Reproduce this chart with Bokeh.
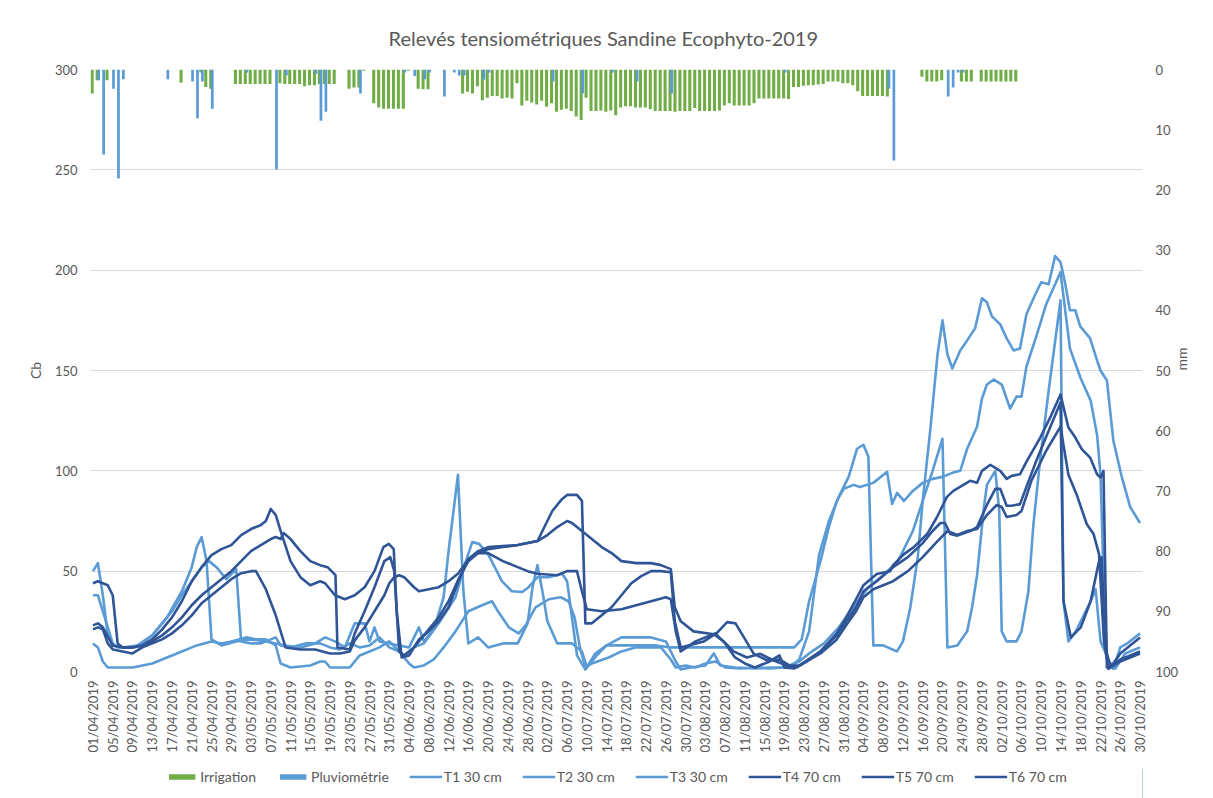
import math
import pandas as pd
from bokeh.plotting import figure
from bokeh.layouts import column
from bokeh.models import (Range1d, LinearAxis, FixedTicker, Legend,
                          LegendItem, ColumnDataSource)
from bokeh.embed import file_html
from bokeh.resources import INLINE

# ---------------- data ----------------
START_DATE = "2019-04-01"
N_DAYS = 213
TITLE = "Relevés tensiométriques Sandine Ecophyto-2019"

IRR_DAYS = [0, 1, 3, 18, 22, 23, 24, 29, 30, 31, 32, 33, 34, 35, 36,
            38, 39, 40, 41, 42, 43, 44, 45, 46, 47, 48, 49, 52, 53, 54, 55,
            57, 58, 59, 60, 61, 62, 63, 64, 66, 67, 68,
            75, 76, 77, 78, 79, 80, 81, 82, 83, 84, 85, 86, 87, 88, 89, 90,
            91, 92, 93, 94, 95, 96, 97, 98, 99, 100, 101, 102, 103, 104, 105,
            106, 107, 108, 109, 110, 111, 112, 113, 114, 115, 116, 117, 118,
            119, 120, 121, 122, 123, 124, 125, 126, 127, 128, 129, 130, 131,
            132, 133, 134, 135, 136, 137, 138, 139, 140, 141, 142, 143, 144,
            145, 146, 147, 148, 149, 150, 151, 152, 153, 154, 155, 156, 157,
            158, 159, 160, 161, 168, 169, 170, 171, 172, 176, 177, 178,
            180, 181, 182, 183, 184, 185, 186, 187]
IRR_MM = [4.0, 1.8, 1.8, 2.2, 0.5, 2.9, 3.2, 2.4, 2.4, 2.4, 2.4, 2.4, 2.4, 2.4, 2.4,
          2.3, 2.4, 2.4, 2.4, 2.4, 2.8, 2.6, 2.6, 2.4, 2.4, 2.4, 2.4, 3.2, 3.0, 3.0, 0.2,
          5.6, 6.3, 6.5, 6.5, 6.5, 6.5, 6.5, 0.2, 3.2, 3.3, 3.3,
          4.0, 3.7, 4.0, 2.8, 5.1, 4.7, 4.4, 4.4, 4.8, 4.7, 4.8, 2.3, 6.0, 5.2, 5.5, 5.8,
          5.2, 6.2, 5.6, 7.0, 6.7, 6.5, 6.9, 7.8, 8.4, 4.7, 6.9, 6.9, 6.8, 7.0, 6.8,
          7.6, 6.3, 6.1, 6.1, 6.3, 6.3, 6.3, 6.6, 6.9, 6.9, 6.9, 6.9, 7.0,
          6.9, 6.9, 6.9, 6.4, 6.9, 6.9, 6.9, 6.9, 6.8, 6.0, 5.6, 6.0, 6.0,
          6.0, 6.0, 5.6, 4.8, 4.8, 4.8, 4.8, 4.8, 4.8, 4.9, 2.9, 2.9, 2.7,
          2.6, 2.6, 2.5, 2.4, 2.0, 2.0, 2.0, 2.3, 2.3, 2.6, 3.6, 4.4, 4.4,
          4.4, 4.4, 4.4, 4.5, 1.2, 2.0, 2.0, 2.0, 1.8, 2.0, 2.0, 2.0,
          2.0, 2.0, 2.0, 2.0, 2.0, 2.0, 2.0, 2.0]

PLUV_DAYS = [1, 2, 4, 5, 6, 15, 20, 21, 22, 24, 31, 37, 39, 45, 46, 47, 54,
             63, 65, 67, 68, 71, 73, 74, 75, 79, 80, 93, 99, 105, 110, 117,
             140, 161, 162, 173, 174, 175, 176]
PLUV_MM = [1.8, 14.1, 3.2, 18.1, 1.6, 1.6, 2.0, 8.1, 2.0, 6.5, 0.5, 16.6, 1.0,
           0.7, 8.5, 7.0, 4.0, 0.5, 1.1, 1.6, 0.5, 4.5, 0.5, 1.0, 1.0, 1.7, 0.5,
           2.0, 4.0, 0.5, 2.0, 4.0, 0.5, 3.2, 15.1, 4.5, 3.0, 0.5, 0.5]

T1_DAYS = [0, 1, 2, 3, 4, 6, 9, 12, 15, 18, 20, 21, 22, 23, 24, 26, 29, 32, 35, 37,
           39, 42, 45, 47, 49, 51, 53, 55, 56, 57, 58, 60, 62, 64, 66, 67, 69, 71,
           72, 73.9, 75, 76, 78, 80, 83, 86, 88, 89, 90, 91, 92, 94, 97, 99, 100,
           101, 102, 104, 107, 110, 113, 116, 118, 119, 121, 124, 125.7, 127, 130,
           134, 137, 141, 143, 145, 147, 149, 151, 153, 154.7, 156, 157, 158, 160,
           162.8, 164, 165.5, 167, 168, 169.6, 171, 172, 173, 174, 175.6, 177,
           178.6, 180, 181, 182, 183.7, 185, 186.4, 187.7, 189, 190.8, 192, 193.5,
           194.8, 195.9, 196.8, 197.8, 198.9, 199.9, 201.9, 203.3, 204, 205.3,
           206.6, 208.3, 210, 212]
T1_CB = [50, 54, 38, 18, 13, 12, 13, 18, 27, 40, 52, 62, 67, 55, 16, 13, 15, 16, 15, 14,
         13, 12, 14, 17, 15, 12, 24, 24, 15, 22, 15, 14, 13, 12, 22, 15, 21, 37,
         60, 98, 40, 14, 17, 12, 14, 14, 24, 42, 53, 40, 25, 14, 14, 10, 2,
         5, 8, 13, 17, 17, 17, 15, 5, 1, 2, 3, 9, 3, 2,
         1.5, 2, 2, 6, 20, 58, 75, 87, 97, 111, 113, 107, 13, 13,
         10, 15, 32, 57, 85, 122, 158, 175, 158, 151, 160, 165,
         171, 186, 184, 177, 173, 166, 160, 161, 178, 188, 194, 193,
         207, 204, 194, 180, 180, 172, 166, 155, 150, 145,
         115, 97, 82, 74]

T2_DAYS = [0, 1, 2, 4, 5, 8, 10, 12, 14, 16, 18, 20, 22, 23.5, 25, 27, 29, 30, 32,
           34, 36, 37, 38, 40, 43, 46, 48, 50, 52, 54, 56, 58, 60, 62, 63, 65, 67,
           70, 73.4, 75.5, 76.8, 78.2, 80.1, 82.8, 84.8, 86.9, 88.2, 90, 92.3, 95,
           96, 98, 99.7, 101.7, 104, 107, 110, 114, 117, 120, 130, 140.5, 142,
           143.5, 145, 147.3, 149, 150.6, 152, 154, 155.3, 158, 160.8, 161.8,
           162.8, 164.2, 166, 168, 170, 172, 174, 175.6, 177, 179, 180, 181,
           182.4, 184, 185.7, 187, 188, 189, 191, 193, 195.9, 197.8, 200, 202,
           203.3, 204, 204.6, 205.3, 206.6, 208, 209.4, 212]
T2_CB = [38, 38, 30, 14, 12, 12, 14, 18, 24, 30, 38, 45, 52, 55, 52, 46, 51, 15, 14,
         14, 16, 17, 13, 12, 14, 14, 12, 11, 14, 12, 13, 17, 12, 10, 8, 12, 14,
         24, 37, 55, 64.5, 63.6, 58, 45, 40, 39.6, 42, 47, 47, 48.7,
         45, 8, 1, 9, 13, 13, 13, 13, 12, 12, 12, 12, 12,
         16, 35, 55, 72, 85, 91, 93, 92, 94, 99.5, 83.5,
         89, 85, 90, 94, 96, 97, 99, 100, 111, 122, 136, 143,
         145.5, 143, 131, 137, 137, 152, 167, 183, 199, 161, 146, 135,
         118, 98, 49, 7, 1.3, 12, 14, 19]

T3_DAYS = [0, 1, 2, 3, 8, 10, 12, 15, 18, 21, 24, 26, 28, 31, 33, 35, 37, 38, 40,
           44, 46, 47, 48, 52, 54, 56, 58, 60, 62, 64, 65, 67, 69, 71, 73.4, 76,
           78.8, 80.8, 82, 84.2, 86.2, 87.6, 89.6, 92.3, 94.7, 96.3, 97.5, 98.6,
           99.7, 101, 104.4, 107, 109.8, 112, 115, 117, 118, 120, 122, 124, 126,
           128, 131, 134, 137, 140, 143, 145, 148, 151, 154, 157, 160, 163, 166,
           168, 170, 172, 173, 175, 177, 178, 179, 180.4, 181, 182.7, 183.5, 184,
           185, 187, 188, 189.4, 190.4, 191.8, 193.5, 195.9, 196.5, 197.5, 199,
           202, 203, 204, 206, 207, 209, 212]
T3_CB = [14, 12, 5, 2, 2, 3, 4, 7, 10, 13, 15, 14, 15, 17, 16, 16, 13, 4, 2,
         3, 5, 5, 2, 2, 8, 10, 12, 15, 10, 4, 2, 3, 6, 12, 20, 30,
         33, 35, 30, 22, 19, 23, 32, 36, 37, 35, 27, 12,
         2, 4, 7, 10, 12, 12, 12, 6, 2, 3, 2, 4, 5,
         2, 1.5, 2, 1.5, 2, 5, 9, 14, 22, 32, 42, 48, 55, 70,
         85, 100, 116, 12, 13, 20, 32, 48, 82, 93, 100, 80, 20,
         15, 15, 20, 40, 73, 106, 140, 185, 35, 15, 20,
         35, 41, 15, 4, 1.5, 9, 12]

T4_DAYS = [0, 1, 3, 4, 5, 6, 8, 10, 12, 14, 16, 18, 20, 22, 24, 26, 28, 30, 32, 34,
           35, 36, 37, 38, 40, 42, 44, 46, 47, 49, 51, 53, 55, 57, 58.8, 59.9,
           60.9, 61.5, 62.5, 64, 66, 68, 70, 72, 74, 76, 78, 80, 83, 86, 88, 90,
           91, 93, 95, 96, 98, 99, 99.7, 101, 103, 105, 107, 109, 111, 113, 115,
           117, 117.8, 119, 123.7, 126.4, 128.4, 130.1, 131.8, 133.8, 136.5, 139,
           141, 143, 144.5, 147.3, 150.6, 152.5, 154.5, 156, 158.7, 162, 165, 168,
           170, 171.6, 172.5, 173.6, 175, 177.6, 179, 181, 182.7, 183.7, 185, 186,
           187.7, 189, 191, 193, 195.9, 196.5, 198, 200, 202, 203.7, 204.2, 205,
           206, 208, 210, 212]
T4_CB = [44, 45, 43, 38, 14, 12, 12, 13, 16, 21, 27, 35, 45, 52, 58, 61, 63, 68, 71, 73,
         75, 81, 78, 70, 55, 47, 43, 45, 44, 38, 36, 38, 42, 50, 62, 63.6,
         61, 30, 7, 8, 16, 20, 25, 32, 45, 56, 60, 62, 62.5, 63, 64, 65,
         70, 80, 86, 88, 88, 85, 24, 24, 28, 32, 38, 44, 47.5, 50, 50,
         49.5, 25, 12, 15, 19.4, 24.6, 24, 17, 8.8, 5.5, 6,
         3, 3, 5.5, 10, 18, 25, 32, 40, 45, 52, 57, 64,
         70, 74, 74, 68.5, 67.7, 70, 72, 83, 91, 91, 82.6, 82.6,
         83.4, 92, 105, 117, 134, 35, 17, 22, 35, 55, 57, 12,
         2, 6, 8, 10]

T5_DAYS = [0, 1, 2, 4, 6, 8, 10, 12, 14, 16, 18, 20, 22, 24, 26, 28, 30, 32, 34, 36,
           37, 38, 38.6, 40, 42, 44, 46, 47.5, 49.1, 49.5, 52, 53, 55, 57, 59,
           60.2, 61, 62, 63, 65, 67, 70, 72, 74, 76, 78, 80, 83, 86, 88, 90, 92,
           94, 96, 97, 99, 101, 103, 105, 107, 110, 113, 115, 117, 117.8, 119,
           121.6, 125.7, 127.7, 129.7, 132.4, 135.1, 137.8, 140.5, 142.6, 144.5,
           147.3, 150.6, 152.5, 154.5, 156, 158.7, 161.4, 162, 164.2, 166.2,
           168.9, 170.9, 172.9, 174.2, 177.6, 179, 180, 181.7, 183.7, 185, 186,
           187.7, 189.1, 191.8, 193.8, 195.9, 197.5, 198.9, 200.2, 201.9, 203.3,
           204, 204.6, 205.3, 206.6, 208, 210, 212]
T5_CB = [23, 24, 22, 13, 12, 12, 13, 15, 18, 22, 27, 33, 38, 42, 46, 50, 55, 60, 63, 66,
         67, 66, 69, 66, 60, 55, 53, 52, 48, 12, 11, 19, 30, 42, 55,
         57, 50, 10, 8, 12, 18, 27, 35, 46, 55, 59, 61, 62, 63, 64, 65, 68,
         72, 75, 74, 70, 66, 62, 59, 55, 54, 54, 53, 51, 32, 25,
         20, 18.6, 15, 10, 7, 8.8, 5.5, 3, 2.2, 5,
         10, 19, 27, 36, 43, 48.6, 50, 53, 58.5, 62,
         68.5, 77, 87, 90, 95, 94, 100, 103, 100, 96, 97.5,
         98.3, 105, 116.6, 126.5, 138, 121.6, 116.6, 110.8, 106.6, 98.3,
         96.7, 100, 2, 4, 9, 13, 17]

T6_DAYS = [0, 1, 2, 3, 4, 6, 8, 10, 12, 14, 16, 18, 20, 22, 24, 26, 28, 30, 32, 33,
           35, 37, 39, 42, 45, 48, 50, 52, 53, 55, 57, 59, 60, 61, 62, 63, 65, 66,
           68, 70, 72, 74, 76, 78, 80, 83, 86, 88, 90, 94, 96, 98, 99, 100, 103,
           107, 110, 113, 116, 117, 118, 119, 122, 124, 126, 128, 130, 132, 134,
           137, 139, 140, 142, 144.5, 147.3, 150.6, 152.5, 154.5, 156, 158, 162,
           165, 168, 171, 173, 175, 177, 179, 181, 183, 184, 185, 187, 188, 190,
           193, 195.9, 197.5, 199.2, 201.2, 202.6, 203.7, 204.7, 205.6, 208, 210,
           212]
T6_CB = [21, 22, 21, 14, 11, 10, 9, 12, 14, 16, 19, 23, 28, 34, 38, 42, 46, 49, 50, 50,
         41, 28, 12, 11, 11, 9, 9, 10, 15.5, 22, 30, 38, 44, 47, 48, 47, 42, 40,
         41, 42, 45, 49, 56, 59, 59, 55, 52, 50, 48.7, 48, 50, 50, 40, 31, 30,
         31, 33, 35, 37, 36, 20, 10, 15, 17, 19, 14, 7, 4, 2,
         5, 8, 2, 1.5, 5, 9, 16, 23, 30, 37, 41, 45,
         50, 57, 65, 70, 68, 70, 71, 78, 83, 82, 77, 78, 80, 95,
         110, 122, 98, 88, 73.5, 68.5, 58.5, 15, 1.3, 5, 7,
         9]

SERIES = [("T1 30 cm", T1_DAYS, T1_CB), ("T2 30 cm", T2_DAYS, T2_CB),
          ("T3 30 cm", T3_DAYS, T3_CB), ("T4 70 cm", T4_DAYS, T4_CB),
          ("T5 70 cm", T5_DAYS, T5_CB), ("T6 70 cm", T6_DAYS, T6_CB)]

LEFT_TICKS = [0, 50, 100, 150, 200, 250, 300]
RIGHT_TICKS = [0, 10, 20, 30, 40, 50, 60, 70, 80, 90, 100]

# ---------------- style ----------------
FONT = "Lato"
TXT = "#595959"
GREEN = "#70AD47"
BLUE = "#5B9BD5"
DARK = "#2F5597"
GRID = "#D9D9D9"
LINE_W = 2.6

start = pd.Timestamp(START_DATE)
tick_days = list(range(0, N_DAYS, 4))
tick_labels = {d: (start + pd.Timedelta(days=d)).strftime("%d/%m/%Y") for d in tick_days}

p = figure(frame_width=1052, frame_height=602, output_backend="svg",
           toolbar_location=None,
           x_range=Range1d(-0.5, N_DAYS - 0.5), y_range=Range1d(0, 300),
           min_border_left=90, min_border_right=63, min_border_top=69,
           min_border_bottom=97)
p.outline_line_color = None
p.background_fill_color = "white"
p.border_fill_color = "white"
p.extra_y_ranges = {"mm": Range1d(100, 0)}

p.title.text = TITLE
p.title.align = "left"
p.title.offset = 298
p.title.standoff = 40
p.title.text_font = FONT
p.title.text_font_size = "20px"
p.title.text_font_style = "normal"
p.title.text_color = TXT

p.xgrid.visible = False
p.ygrid.grid_line_color = GRID
p.ygrid.grid_line_width = 1
p.yaxis.ticker = FixedTicker(ticks=LEFT_TICKS)
p.ygrid.ticker = FixedTicker(ticks=LEFT_TICKS)

p.xaxis.ticker = FixedTicker(ticks=tick_days)
p.xaxis.major_label_overrides = tick_labels
p.xaxis.major_label_orientation = math.pi / 2

ax_r = LinearAxis(y_range_name="mm", ticker=FixedTicker(ticks=RIGHT_TICKS))
p.add_layout(ax_r, "right")

for ax in [p.xaxis[0], p.yaxis[0], ax_r]:
    ax.axis_line_color = None
    ax.major_tick_line_color = None
    ax.minor_tick_line_color = None
    ax.major_tick_out = 0
    ax.major_tick_in = 0
    ax.major_label_text_font = FONT
    ax.major_label_text_font_size = "13px"
    ax.major_label_text_color = TXT
    ax.axis_label_text_font = FONT
    ax.axis_label_text_font_size = "14px"
    ax.axis_label_text_font_style = "normal"
    ax.axis_label_text_color = TXT
p.xaxis.major_label_standoff = 9
p.yaxis.major_label_standoff = 13
ax_r.major_label_standoff = 13
p.yaxis.axis_label = "Cb"
p.yaxis.axis_label_standoff = 8
ax_r.axis_label = "mm"
ax_r.axis_label_standoff = 0
try:
    ax_r.axis_label_orientation = math.pi / 2
except Exception:
    pass

# bars (secondary axis, hanging from top)
src_irr = ColumnDataSource(dict(x=[d - 0.16 for d in IRR_DAYS],
                                top=[0] * len(IRR_DAYS), bottom=IRR_MM))
src_pl = ColumnDataSource(dict(x=[d + 0.16 for d in PLUV_DAYS],
                               top=[0] * len(PLUV_DAYS), bottom=PLUV_MM))
p.vbar(x="x", width=0.62, top="top", bottom="bottom", y_range_name="mm",
       fill_color=GREEN, line_color=None, source=src_irr)
p.vbar(x="x", width=0.55, top="top", bottom="bottom", y_range_name="mm",
       fill_color=BLUE, line_color=None, source=src_pl)

for i, (name, days, vals) in enumerate(SERIES):
    col = BLUE if i < 3 else DARK
    p.line(x=days, y=vals, line_color=col, line_width=LINE_W, line_join="round")

# ---------------- legend strip (separate figure below the chart) ----------------
q = figure(width=1205, height=30, output_backend="svg", toolbar_location=None,
           x_range=Range1d(0, 1), y_range=Range1d(0, 1),
           x_axis_location=None, y_axis_location=None,
           min_border_left=28, min_border_right=0, min_border_top=0,
           min_border_bottom=0)
q.outline_line_color = None
q.background_fill_color = "white"
q.border_fill_color = "white"
q.xgrid.visible = False
q.ygrid.visible = False

# proxy glyphs for the legend keys, placed outside the strip's visible range
lg_irr = q.vbar(x=[5], top=[5], width=0.1, fill_color=GREEN, line_color=None)
lg_pl = q.vbar(x=[5], top=[5], width=0.1, fill_color=BLUE, line_color=None)
items = [LegendItem(label="Irrigation", renderers=[lg_irr]),
         LegendItem(label="Pluviométrie", renderers=[lg_pl])]
for i, (name, days, vals) in enumerate(SERIES):
    col = BLUE if i < 3 else DARK
    r = q.line(x=[5, 6], y=[5, 5], line_color=col, line_width=LINE_W)
    items.append(LegendItem(label=name, renderers=[r]))

legend = Legend(items=items, orientation="horizontal", location="top_center",
                padding=0, margin=0, spacing=20, label_standoff=2,
                glyph_width=33, glyph_height=7, label_height=17,
                label_text_font=FONT, label_text_font_size="14px",
                label_text_color=TXT, border_line_color=None,
                background_fill_alpha=0)
q.add_layout(legend, "center")

layout = column(p, q, spacing=0)
open("out.html", "w").write(file_html(layout, INLINE))
